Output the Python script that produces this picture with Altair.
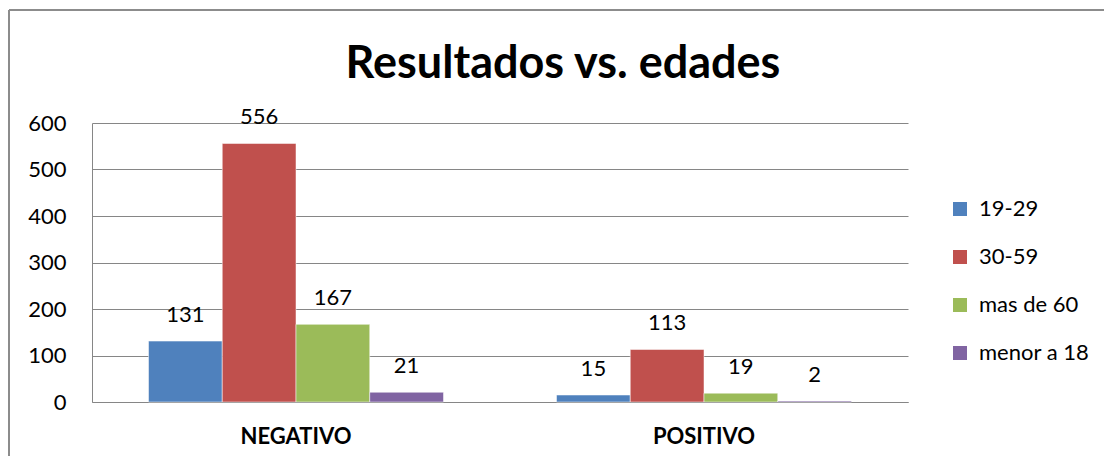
import altair as alt
import pandas as pd

groups = ["NEGATIVO", "POSITIVO"]
series = ["19-29", "30-59", "mas de 60", "menor a 18"]
negativo = [131, 556, 167, 21]
positivo = [15, 113, 19, 2]
colors = ["#4F81BD", "#C0504D", "#9BBB59", "#8064A2"]
y_ticks = [0, 100, 200, 300, 400, 500, 600]
title_text = "Resultados vs. edades"

rows = []
for s, v in zip(series, negativo):
    rows.append({"grupo": "NEGATIVO", "edad": s, "valor": v})
for s, v in zip(series, positivo):
    rows.append({"grupo": "POSITIVO", "edad": s, "valor": v})
df = pd.DataFrame(rows)

FONT = "Lato"
W, H = 816, 279

x_enc = alt.X("grupo:N", sort=groups,
              scale=alt.Scale(paddingInner=0.277, paddingOuter=0.1385),
              axis=alt.Axis(title=None, labelAngle=0, labelFontWeight="bold",
                            labelFontSize=22, labelFont=FONT, labelColor="#000000",
                            labelPadding=24, ticks=False, domain=True,
                            domainColor="#868686", grid=False))
xo_enc = alt.XOffset("edad:N", sort=series, scale=alt.Scale(paddingInner=0, paddingOuter=0))
y_enc = alt.Y("valor:Q", scale=alt.Scale(domain=[0, 600], nice=False),
              axis=alt.Axis(title=None, values=y_ticks, labelFontSize=22, labelFont=FONT,
                            labelColor="#000000", labelPadding=26, ticks=False,
                            domain=True, domainColor="#868686", grid=True,
                            gridColor="#868686", gridWidth=1))

bars = alt.Chart(df).mark_bar(stroke="white", strokeWidth=0.5).encode(
    x=x_enc, xOffset=xo_enc, y=y_enc,
    color=alt.Color("edad:N", sort=series,
                    scale=alt.Scale(domain=series, range=colors),
                    legend=alt.Legend(title=None, orient="none", legendX=857, legendY=75,
                                      symbolType="square", symbolSize=196,
                                      symbolStrokeWidth=0, labelFontSize=22,
                                      labelFont=FONT, labelColor="#000000",
                                      labelOffset=8, rowPadding=26, padding=0)),
)

labels = alt.Chart(df).mark_text(dy=-26, baseline="middle", align="center",
                                 fontSize=22, font=FONT, color="#000000").encode(
    x=alt.X("grupo:N", sort=groups), xOffset=alt.XOffset("edad:N", sort=series),
    y="valor:Q", text="valor:Q",
)

title = alt.Chart(pd.DataFrame({"t": [title_text]})).mark_text(
    align="center", baseline="alphabetic", fontSize=45, font=FONT,
    fontWeight="bold", color="#000000").encode(
    x=alt.value(471), y=alt.value(-45), text="t:N")

frame_top = alt.Chart(df).mark_rule(color="#8c8c8c", strokeWidth=1.5).encode(
    x=alt.value(-83), x2=alt.value(1200), y=alt.value(-113))
frame_left = alt.Chart(df).mark_rule(color="#8c8c8c", strokeWidth=1.5).encode(
    x=alt.value(-83), y=alt.value(-113), y2=alt.value(500))

chart = alt.layer(frame_top, frame_left, bars, labels, title).properties(
    width=W, height=H,
    autosize=alt.AutoSizeParams(type="none"),
    padding={"left": 84, "top": 115, "right": 196, "bottom": 54},
).configure_view(stroke=None).configure_axis(labelFont=FONT)

chart.save("out.html", embed_options={"renderer": "svg", "actions": False})
